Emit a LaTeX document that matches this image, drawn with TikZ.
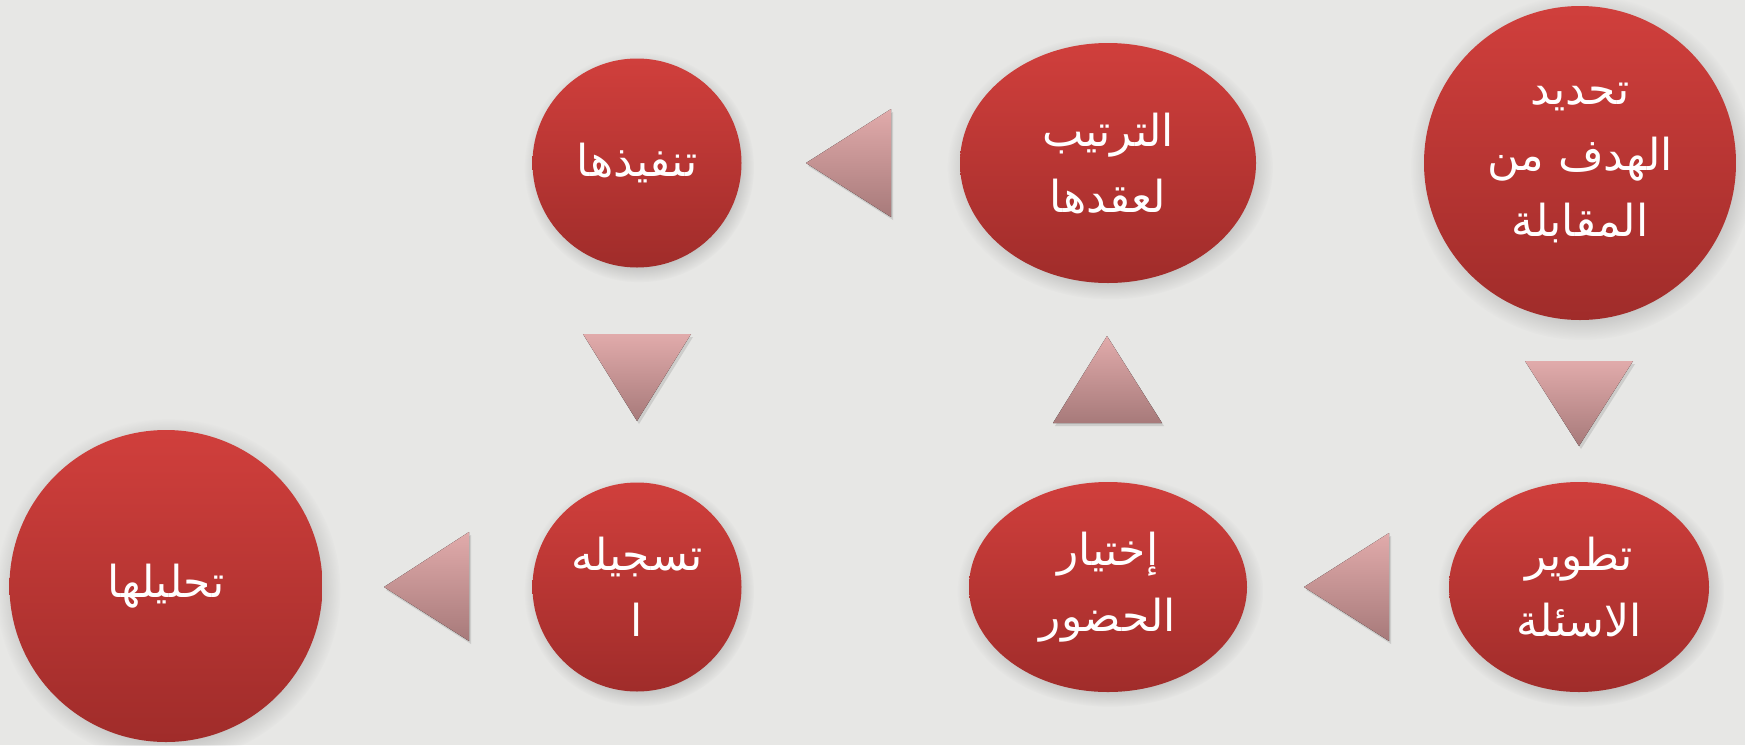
\documentclass[tikz,border=0pt]{standalone}
\usepackage{fontspec}
\TeXXeTstate=1
\newfontfamily\arabicfont[Script=Arabic]{DejaVu Sans}
\usetikzlibrary{shapes.geometric,shadows,fadings}
\definecolor{bgcol}{HTML}{E7E7E5}
\definecolor{redtop}{HTML}{D03F3C}
\definecolor{redbot}{HTML}{A02C2A}
\definecolor{tritop}{HTML}{E1ABAB}
\definecolor{tribot}{HTML}{A77A7A}
\newcommand\artx[1]{\beginR#1\endR}
\tikzset{
  stepnode/.style={ellipse, inner sep=0pt, top color=redtop, bottom color=redbot,
    draw=none, text=white, align=center,
    font=\arabicfont\fontsize{44}{66}\selectfont,
    circular drop shadow={shadow xshift=2pt, shadow yshift=-4pt, opacity=0.35}},
  tri/.style={top color=tritop, bottom color=tribot, draw=none,
    drop shadow={shadow xshift=2pt, shadow yshift=-3pt, opacity=0.25}}
}
\begin{document}
\begin{tikzpicture}[x=1pt,y=-1pt]
\fill[bgcol] (0,0) rectangle (1745,745);
\useasboundingbox (0,0) rectangle (1745,745);
% nodes
\node[stepnode, minimum width=312pt, minimum height=314pt] (n1) at (1580,163)
  {\artx{تحديد}\\\artx{الهدف من}\\\artx{المقابلة}};
\node[stepnode, minimum width=296pt, minimum height=240pt] (n2) at (1108,163)
  {\artx{الترتيب}\\\artx{لعقدها}};
\node[stepnode, minimum width=209pt, minimum height=209pt] (n3) at (637,163)
  {\artx{تنفيذها}};
\node[stepnode, minimum width=260pt, minimum height=210pt] (n4) at (1579,587)
  {\artx{تطوير}\\\artx{الاسئلة}};
\node[stepnode, minimum width=278pt, minimum height=210pt] (n5) at (1108,587)
  {\artx{إختيار}\\\artx{الحضور}};
\node[stepnode, minimum width=209pt, minimum height=209pt] (n6) at (637,587)
  {\artx{تسجيله}\\\artx{ا}};
\node[stepnode, minimum width=313pt, minimum height=312pt] (n7) at (166,586)
  {\artx{تحليلها}};
% triangle connectors
\fill[tri] (891,109) -- (891,217) -- (806,163) -- cycle;
\fill[tri] (1525,361) -- (1633,361) -- (1579,446) -- cycle;
\fill[tri] (583,334) -- (691,334) -- (637,421) -- cycle;
\fill[tri] (1053,423) -- (1162,423) -- (1107,336) -- cycle;
\fill[tri] (1389,533) -- (1389,641) -- (1304,587) -- cycle;
\fill[tri] (469,532) -- (469,641) -- (384,587) -- cycle;
\end{tikzpicture}
\end{document}
